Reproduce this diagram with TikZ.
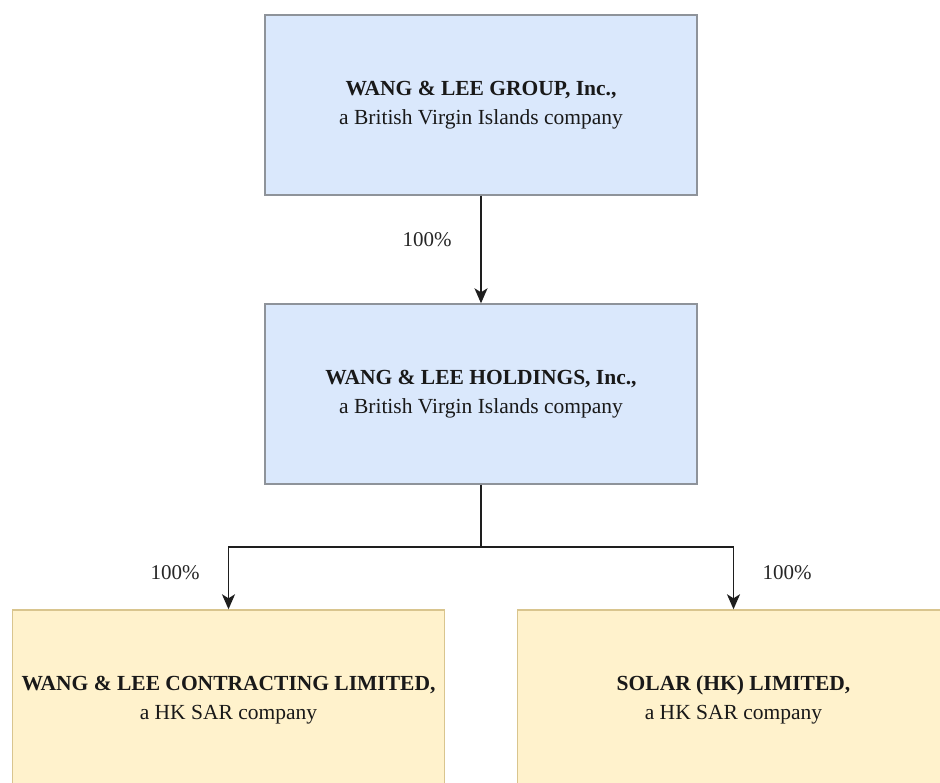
\documentclass[tikz,border=0pt]{standalone}
\usepackage{fontspec}
\setmainfont{Liberation Serif}
\newfontfamily\wlserif{Liberation Serif}
\usetikzlibrary{arrows.meta,positioning}
\definecolor{bvifill}{HTML}{DAE8FC}
\definecolor{bviline}{HTML}{8E939A}
\definecolor{hkfill}{HTML}{FFF2CC}
\definecolor{hkline}{HTML}{D9C58E}
\definecolor{wlink}{HTML}{1E1E1E}

\begin{document}
\begin{tikzpicture}[x=1pt,y=-1pt,
    font=\wlserif\fontsize{21.5}{29}\selectfont,
    entity/.style={draw,line width=1.4pt,minimum width=432pt,minimum height=180pt,align=center,inner sep=0pt,text=black!90},
    bvibox/.style={entity,fill=bvifill,draw=bviline},
    hkbox/.style={entity,fill=hkfill,draw=hkline},
    own/.style={wlink,line width=1.6pt,-{Stealth[length=15pt,width=13pt,inset=4pt]}},
    pct/.style={font=\wlserif\fontsize{21}{24}\selectfont,text=black!85}]
  \clip (0,0) rectangle (940,783);
  \fill[white] (0,0) rectangle (940,783);
  % BVI parent and holding company
  \node[bvibox] (grp) at (481,105) {\textbf{WANG \& LEE GROUP, Inc.,}\\a British Virgin Islands company};
  \node[bvibox] (hold) at (481,394) {\textbf{WANG \& LEE HOLDINGS, Inc.,}\\a British Virgin Islands company};
  % HK SAR subsidiaries
  \node[hkbox] (contr) at (228.5,700) {\textbf{WANG \& LEE CONTRACTING LIMITED,}\\a HK SAR company};
  \node[hkbox] (solar) at (733.5,700) {\textbf{SOLAR (HK) LIMITED,}\\a HK SAR company};
  % ownership links
  \draw[own] (grp) -- (hold);
  \node[pct] (pgrp) at (427,240) {100\%};
  \coordinate (split) at (481,547);
  \draw[wlink,line width=1.6pt] (hold) -- (split);
  \draw[own] (split) -| (contr);
  \draw[own] (split) -| (solar);
  \node[pct] (pcontr) at (175,573) {100\%};
  \node[pct] (psolar) at (787,573) {100\%};
\end{tikzpicture}
\end{document}
